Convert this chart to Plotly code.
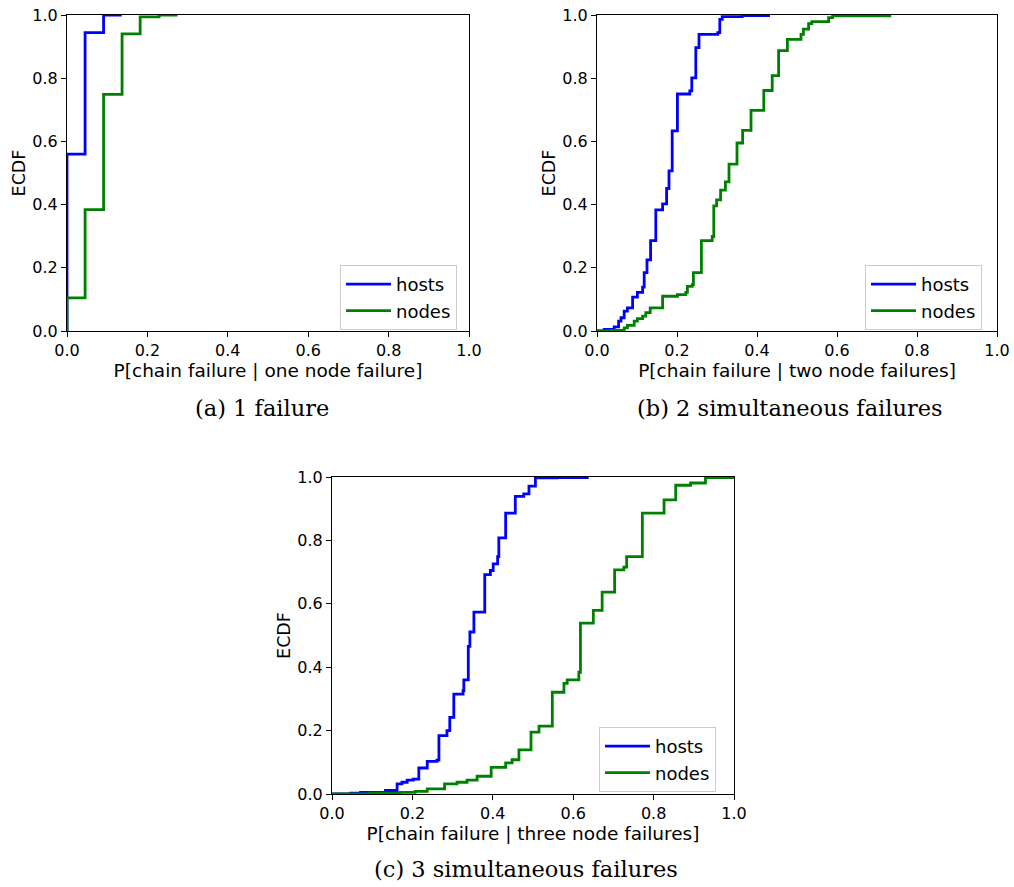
import plotly.graph_objects as go

# ---------------- data (step positions x, cumulative ECDF level y) ----------------
a_hosts_x = [0.0, 0.0, 0.045, 0.091, 0.136]
a_hosts_y = [0.0, 0.56, 0.944, 1.0, 1.0]
a_nodes_x = [0.0, 0.0, 0.045, 0.091, 0.137, 0.182, 0.229, 0.275]
a_nodes_y = [0.0, 0.105, 0.384, 0.749, 0.940, 0.994, 1.0, 1.0]

b_hosts_x = [0.0, 0.018, 0.043, 0.054, 0.060, 0.068, 0.076, 0.089, 0.101, 0.114, 0.118,
             0.125, 0.134, 0.147, 0.164, 0.174, 0.180, 0.188, 0.201, 0.232, 0.237, 0.247,
             0.255, 0.302, 0.307, 0.313, 0.363, 0.429]
b_hosts_y = [0.0, 0.005, 0.013, 0.031, 0.042, 0.063, 0.073, 0.107, 0.122, 0.139, 0.185,
             0.225, 0.286, 0.383, 0.402, 0.451, 0.507, 0.633, 0.750, 0.760, 0.801, 0.897,
             0.939, 0.944, 0.986, 0.995, 0.998, 1.0]
b_nodes_x = [0.0, 0.035, 0.068, 0.076, 0.093, 0.101, 0.114, 0.122, 0.133, 0.164, 0.201,
             0.222, 0.226, 0.238, 0.241, 0.261, 0.288, 0.292, 0.299, 0.309, 0.321, 0.330,
             0.350, 0.364, 0.385, 0.417, 0.438, 0.454, 0.476, 0.510, 0.516, 0.529, 0.537,
             0.579, 0.589, 0.732]
b_nodes_y = [0.0, 0.002, 0.010, 0.018, 0.031, 0.039, 0.047, 0.058, 0.073, 0.110, 0.115,
             0.122, 0.141, 0.147, 0.185, 0.286, 0.299, 0.396, 0.415, 0.446, 0.472, 0.528,
             0.595, 0.635, 0.698, 0.761, 0.808, 0.887, 0.923, 0.939, 0.955, 0.973, 0.979,
             0.992, 0.997, 1.0]

c_hosts_x = [0.0, 0.046, 0.071, 0.133, 0.162, 0.174, 0.187, 0.202, 0.216, 0.237, 0.261,
             0.266, 0.286, 0.293, 0.303, 0.326, 0.328, 0.339, 0.343, 0.353, 0.380, 0.394,
             0.401, 0.412, 0.415, 0.432, 0.456, 0.477, 0.490, 0.506, 0.560, 0.635]
c_hosts_y = [0.0, 0.003, 0.005, 0.011, 0.032, 0.037, 0.044, 0.047, 0.082, 0.103, 0.107,
             0.184, 0.200, 0.242, 0.315, 0.326, 0.360, 0.466, 0.511, 0.574, 0.692, 0.705,
             0.726, 0.749, 0.808, 0.886, 0.939, 0.947, 0.971, 0.997, 0.998, 1.0]
c_nodes_x = [0.0, 0.095, 0.170, 0.207, 0.237, 0.280, 0.311, 0.336, 0.361, 0.396, 0.432,
             0.448, 0.465, 0.495, 0.515, 0.548, 0.577, 0.585, 0.614, 0.618, 0.650, 0.672,
             0.703, 0.726, 0.733, 0.772, 0.826, 0.855, 0.892, 0.929, 1.0]
c_nodes_y = [0.0, 0.003, 0.005, 0.008, 0.016, 0.032, 0.037, 0.044, 0.056, 0.084, 0.098,
             0.108, 0.139, 0.195, 0.214, 0.321, 0.349, 0.360, 0.384, 0.539, 0.579, 0.637,
             0.707, 0.716, 0.749, 0.886, 0.928, 0.974, 0.981, 0.998, 1.0]

series_names = ["hosts", "nodes"]
x_titles = ["P[chain failure | one node failure]",
            "P[chain failure | two node failures]",
            "P[chain failure | three node failures]"]
captions = ["(a) 1 failure", "(b) 2 simultaneous failures", "(c) 3 simultaneous failures"]
tick_vals = [0.0, 0.2, 0.4, 0.6, 0.8, 1.0]

BLUE = "#0000ff"
GREEN = "#008000"
W, H = 1014, 887

panels = [
    dict(xd=[67 / W, 469 / W], yd=[1 - 331 / H, 1 - 15 / H],
         data=[(a_hosts_x, a_hosts_y), (a_nodes_x, a_nodes_y)],
         leg=(340 / W, 1 - 265 / H), cap=(262 / W, 1 - 408 / H)),
    dict(xd=[597 / W, 997 / W], yd=[1 - 331 / H, 1 - 15 / H],
         data=[(b_hosts_x, b_hosts_y), (b_nodes_x, b_nodes_y)],
         leg=(865 / W, 1 - 265 / H), cap=(790 / W, 1 - 408 / H)),
    dict(xd=[332 / W, 734 / W], yd=[1 - 794 / H, 1 - 477 / H],
         data=[(c_hosts_x, c_hosts_y), (c_nodes_x, c_nodes_y)],
         leg=(599 / W, 1 - 727 / H), cap=(526 / W, 1 - 869 / H)),
]

fig = go.Figure()
layout = dict(width=W, height=H, margin=dict(l=0, r=0, t=0, b=0),
              paper_bgcolor="white", plot_bgcolor="white",
              font=dict(family="DejaVu Sans", color="black"), annotations=[])

for i, p in enumerate(panels):
    sfx = "" if i == 0 else str(i + 1)
    legname = "legend" if i == 0 else f"legend{i + 1}"
    for (xs, ys), name, col in zip(p["data"], series_names, [BLUE, GREEN]):
        fig.add_trace(go.Scatter(x=xs, y=ys, mode="lines", name=name,
                                 line=dict(color=col, width=2.8, shape="hv"),
                                 xaxis="x" + sfx, yaxis="y" + sfx, legend=legname))
    axcommon = dict(range=[0, 1], tickvals=tick_vals, tickformat=".1f",
                    showgrid=False, zeroline=False, showline=True, mirror=True,
                    linecolor="black", linewidth=1, ticks="outside", ticklen=5,
                    tickcolor="black", automargin=False,
                    tickfont=dict(size=16, family="DejaVu Sans"))
    layout["xaxis" + sfx] = dict(axcommon, domain=p["xd"], anchor="y" + sfx,
                                 title=dict(text=x_titles[i], font=dict(size=18.5),
                                            standoff=0))
    layout["yaxis" + sfx] = dict(axcommon, domain=p["yd"], anchor="x" + sfx,
                                 title=dict(text="ECDF", font=dict(size=17.5), standoff=2))
    layout[legname] = dict(x=p["leg"][0], y=p["leg"][1], xanchor="left", yanchor="top",
                           bgcolor="rgba(255,255,255,0.8)", bordercolor="#cccccc",
                           borderwidth=1, font=dict(size=18, family="DejaVu Sans"),
                           tracegroupgap=0, itemwidth=45)
    layout["annotations"].append(dict(text=captions[i], x=p["cap"][0], y=p["cap"][1],
                                      xref="paper", yref="paper", showarrow=False,
                                      xanchor="center", yanchor="middle",
                                      font=dict(size=22.5, family="DejaVu Serif")))

fig.update_layout(**layout)
fig.write_html("out.html", config={"displayModeBar": False},
               post_script="document.body.style.margin='0';document.body.style.overflow='hidden';")
